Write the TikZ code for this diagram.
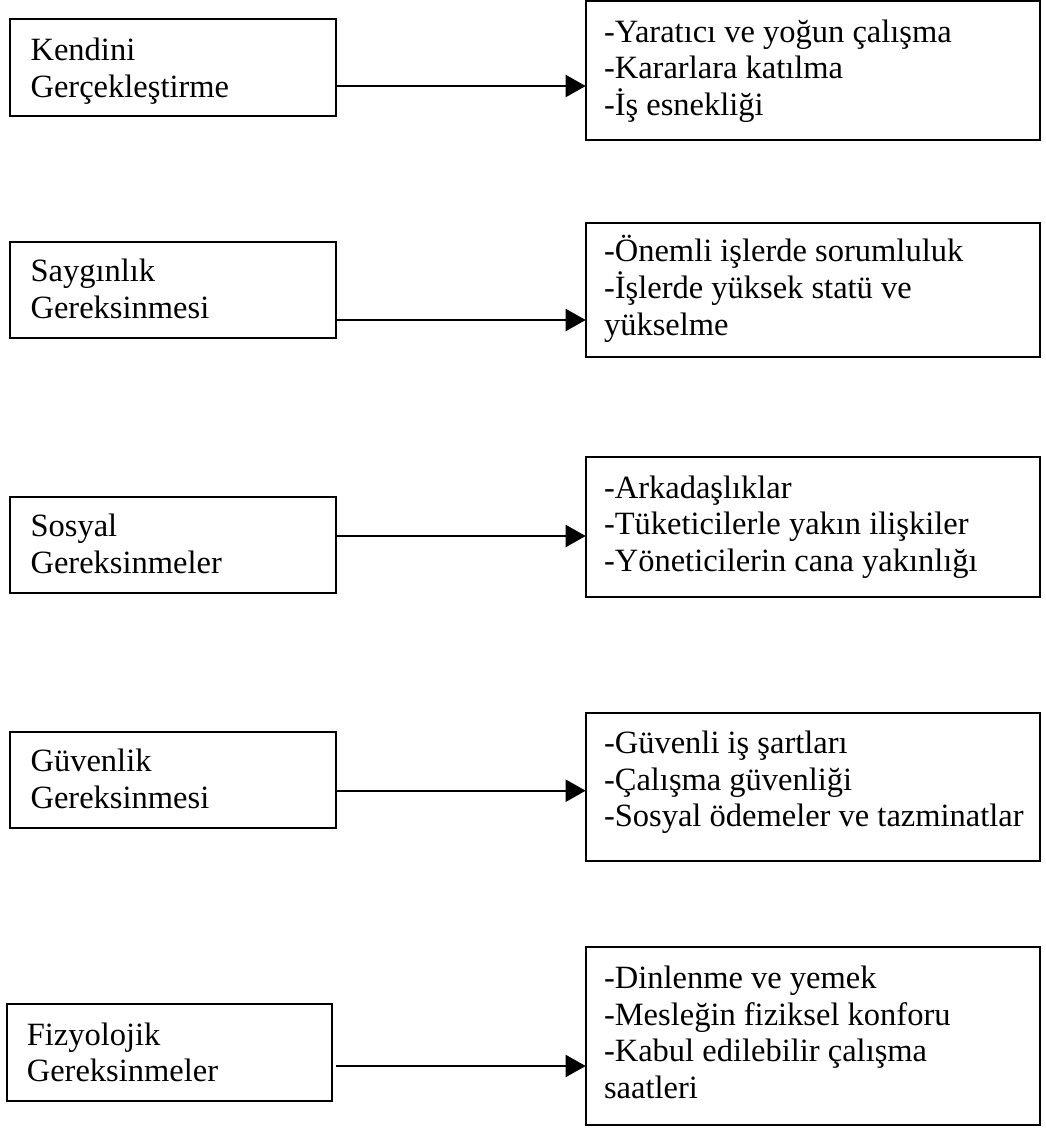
\documentclass[tikz,border=0pt]{standalone}
\usepackage{fontspec}
\setmainfont{Liberation Serif}
\usetikzlibrary{arrows.meta}
\newcommand{\diagfont}{\fontsize{32.5}{36.8}\selectfont\lineskiplimit=-100pt\relax}
\tikzset{
  box/.style={draw, line width=2pt, inner sep=0pt, outer sep=0pt, anchor=north west, rectangle},
  txt/.style={anchor=base west, inner sep=0pt, outer sep=0pt, font=\diagfont},
  arr/.style={line width=2pt, -{Triangle[length=20pt,width=22pt]}},
}
\begin{document}
\begin{tikzpicture}[x=1pt,y=-1pt]
\useasboundingbox (0,0) rectangle (1045,1128);
% left boxes
\node[box, minimum width=326pt, minimum height=96.7pt] (L1) at (9.6,19.3) {};
\node[box, minimum width=326pt, minimum height=96.3pt] (L2) at (9.6,241.7) {};
\node[box, minimum width=326pt, minimum height=96.3pt] (L3) at (9.6,496.7) {};
\node[box, minimum width=326pt, minimum height=96.6pt] (L4) at (9.6,731.7) {};
\node[box, minimum width=324.9pt, minimum height=96.7pt] (L5) at (6.9,1004) {};
% right boxes
\node[box, minimum width=454.3pt, minimum height=139pt] (R1) at (585.7,1.2) {};
\node[box, minimum width=454.3pt, minimum height=134pt] (R2) at (585.7,222.7) {};
\node[box, minimum width=454.3pt, minimum height=139.4pt] (R3) at (585.7,457.3) {};
\node[box, minimum width=454.3pt, minimum height=148.3pt] (R4) at (585.7,712.7) {};
\node[box, minimum width=454.3pt, minimum height=177.7pt] (R5) at (585.7,947.3) {};
% left texts
\node[txt] (tL1) at (30.6,60.7) {\vtop{\hbox{Kendini}\hbox{Gerçekleştirme}}};
\node[txt] (tL2) at (30.6,281.7) {\vtop{\hbox{Saygınlık}\hbox{Gereksinmesi}}};
\node[txt] (tL3) at (30.6,536.7) {\vtop{\hbox{Sosyal}\hbox{Gereksinmeler}}};
\node[txt] (tL4) at (30.6,771.7) {\vtop{\hbox{Güvenlik}\hbox{Gereksinmesi}}};
\node[txt] (tL5) at (26.8,1045) {\vtop{\hbox{Fizyolojik}\hbox{Gereksinmeler}}};
% right texts
\node[txt] (tR1) at (604,42) {\vtop{\hbox{-Yaratıcı ve yoğun çalışma}\hbox{-Kararlara katılma}\hbox{-İş esnekliği}}};
\node[txt] (tR2) at (604,261.7) {\vtop{\hbox{-Önemli işlerde sorumluluk}\hbox{-İşlerde yüksek statü ve}\hbox{yükselme}}};
\node[txt] (tR3) at (604,498) {\vtop{\hbox{-Arkadaşlıklar}\hbox{-Tüketicilerle yakın ilişkiler}\hbox{-Yöneticilerin cana yakınlığı}}};
\node[txt] (tR4) at (604,753.3) {\vtop{\hbox{-Güvenli iş şartları}\hbox{-Çalışma güvenliği}\hbox{-Sosyal ödemeler ve tazminatlar}}};
\node[txt] (tR5) at (604,988.3) {\vtop{\hbox{-Dinlenme ve yemek}\hbox{-Mesleğin fiziksel konforu}\hbox{-Kabul edilebilir çalışma}\hbox{saatleri}}};
% arrow levels
\coordinate (y1) at (0,86);
\coordinate (y2) at (0,320);
\coordinate (y3) at (0,536);
\coordinate (y4) at (0,790.7);
\coordinate (y5) at (0,1066);
\coordinate (s5) at (335.6,1066);
\draw[arr] (L1.east |- y1) -- (R1.west |- y1);
\draw[arr] (L2.east |- y2) -- (R2.west |- y2);
\draw[arr] (L3.east |- y3) -- (R3.west |- y3);
\draw[arr] (L4.east |- y4) -- (R4.west |- y4);
\draw[arr] (s5) -- (R5.west |- y5);
\end{tikzpicture}
\end{document}
